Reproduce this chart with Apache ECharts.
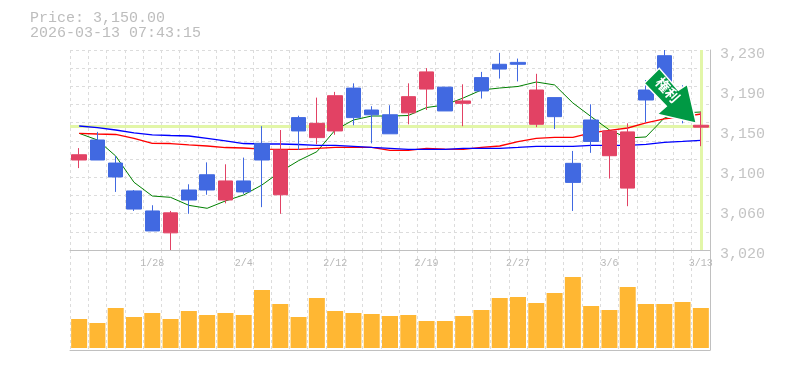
<!DOCTYPE html>
<html><head><meta charset="utf-8">
<style>html,body{margin:0;padding:0;background:#fff}#c{width:785px;height:370px}</style>
<script src="https://cdn.jsdelivr.net/npm/echarts@6/dist/echarts.min.js"></script>
</head><body><div id="c"></div>
<script>
const dates = ['1/22','1/23','1/26','1/27','1/28','1/29','1/30','2/2','2/3','2/4','2/5','2/6','2/9','2/10','2/12','2/13','2/16','2/17','2/18','2/19','2/20','2/24','2/25','2/26','2/27','3/2','3/3','3/4','3/5','3/6','3/9','3/10','3/11','3/12','3/13'];
const labelled = ['1/28','2/4','2/12','2/19','2/27','3/6','3/13'];
// open, close, low, high
const ohlc = [
[3120,3114.5,3106,3127],[3114.5,3135.5,3114.5,3144],[3096.7,3111.3,3081,3118.7],[3063,3082,3061,3083],[3040,3061,3040,3067],
[3059,3038,3020,3061],[3072.5,3083,3058,3089],[3083,3099,3078,3112],[3092.5,3072.5,3069,3110],[3081,3092.5,3079,3117],
[3114.5,3132,3065,3150],[3125,3078,3058,3146],[3145,3159,3125,3161],[3153,3138,3131,3180],[3182,3145,3141,3186],
[3159,3190,3151,3195],[3162,3167,3132,3171],[3142,3162,3142,3172],[3181,3164,3152,3195],[3207,3189,3167,3211],
[3166,3191,3166,3191],[3176.5,3174,3150,3194],[3187,3201,3179,3207],[3210,3215,3200,3227],[3215,3217,3197,3221],
[3188,3152,3149,3205],[3160,3180,3147,3180],[3091,3111,3061,3124],[3134,3156.5,3122,3173],[3145,3119,3095,3145],
[3144,3085,3066,3153],[3177.5,3188,3154,3198.5],[3193,3224,3185,3230],[3164,3180,3153,3193],[3151,3149,3129,3165]
];
const maShort = [3142.5,3135.5,3118.7,3091.1,3076.7,3075.3,3066.9,3063.8,3071.5,3077.8,3088.3,3102.2,3113.8,3123.2,3146,3156.5,3160.7,3160.7,3161.2,3169.6,3172.3,3179.6,3188,3190.1,3191.7,3196.4,3193.3,3174.4,3160,3146,3137.6,3138.7,3158.6,3163.9,3164.9];
const maMid = [3142.5,3141.8,3141.3,3137.3,3132,3131.8,3130.3,3129.2,3127.6,3127.1,3126,3125.7,3125.7,3126.8,3127.8,3127.8,3127.8,3124.7,3124.7,3126.8,3126,3125.7,3127.8,3129.2,3133.9,3137.1,3138.3,3138.3,3142.9,3145.5,3148.1,3153.4,3157.6,3159.7,3162.8];
const maLong = [3150.2,3148.6,3146,3142.9,3140.8,3140.2,3139.7,3137.1,3134.5,3131.8,3131.3,3131.3,3130.8,3129.9,3129.9,3128.9,3127.8,3126.8,3125.7,3125.7,3125.7,3126.8,3126.8,3126.8,3127.8,3128.9,3128.9,3128.9,3129.9,3129.9,3129.9,3131,3133.1,3134.1,3135.2];
const volume = [29,25,40,31,35,29,37,33,35,33,58,44,31,50,37,35,34,32,33,27,27,32,38,50,51,45,55,71,42,38,61,44,44,46,40];
const lastPrice = 3150;
const priceMin = 3020, priceMax = 3230;

const axisGray = '#c0c0c0', gridGray = '#dcdcdc', textGray = '#c4c4c4';
const mono = '"Liberation Mono", monospace';
const band = '#e2f6a8';
const arrowPath = 'path://M645 84L660 69L679 91L688 85L697 124L658 115L667 107Z';

const chart = echarts.init(document.getElementById('c'), null, {renderer:'canvas'});
chart.setOption({
  animation:false, backgroundColor:'#fff',
  title:{left:30,top:11,padding:0,text:'Price: 3,150.00\n2026-03-13 07:43:15',
    textStyle:{fontFamily:mono,fontSize:15,fontWeight:'normal',color:'#bdbdbd',lineHeight:15}},
  grid:[{left:70,right:75,top:50,height:200},{left:70,right:75,top:250,height:100}],
  xAxis:[
    {type:'category',gridIndex:0,data:dates,boundaryGap:true,
     axisLine:{show:true,onZero:false,lineStyle:{color:axisGray,width:1}},axisTick:{show:false},
     axisLabel:{show:true,interval:0,margin:8,fontFamily:mono,fontSize:10,color:'#b8b8b8',hideOverlap:false,
       formatter:v=>labelled.includes(v)?v:''},
     splitLine:{show:true,interval:0,lineStyle:{color:gridGray,type:[3,3],width:1}}},
    {type:'category',gridIndex:1,data:dates,boundaryGap:true,
     axisLine:{show:true,onZero:false,lineStyle:{color:axisGray,width:1}},axisTick:{show:false},axisLabel:{show:false},
     splitLine:{show:true,interval:0,lineStyle:{color:gridGray,type:[3,3],width:1}}}
  ],
  yAxis:[
    {type:'value',gridIndex:0,position:'right',min:priceMin,max:priceMax,interval:42,scale:true,
     axisLine:{show:true,lineStyle:{color:axisGray}},axisTick:{show:false},splitLine:{show:false},
     axisLabel:{show:true,margin:10,showMinLabel:true,showMaxLabel:true,hideOverlap:false,fontFamily:mono,fontSize:15,color:textGray,
       verticalAlign:'top',lineHeight:8,formatter:v=>(Math.round(v/10)*10).toLocaleString('en-US')}},
    {type:'value',gridIndex:0,position:'left',min:priceMin,max:priceMax,interval:(priceMax-priceMin)/11,scale:true,
     axisLine:{show:false},axisTick:{show:false},axisLabel:{show:false},
     splitLine:{show:true,lineStyle:{color:gridGray,type:[3,3],width:1}}},
    {type:'value',gridIndex:1,position:'right',min:-2,max:98,
     axisLine:{show:true,lineStyle:{color:axisGray}},axisTick:{show:false},axisLabel:{show:false},splitLine:{show:false}}
  ],
  series:[
    {type:'line',xAxisIndex:0,yAxisIndex:0,data:maShort,showSymbol:false,z:2,lineStyle:{color:'#008000',width:1}},
    {type:'line',xAxisIndex:0,yAxisIndex:0,data:maMid,showSymbol:false,z:2,lineStyle:{color:'#ff0000',width:1.3}},
    {type:'line',xAxisIndex:0,yAxisIndex:0,data:maLong,showSymbol:false,z:2,lineStyle:{color:'#0000ff',width:1.3}},
    {type:'candlestick',name:'price',xAxisIndex:0,yAxisIndex:0,data:ohlc,barWidth:15,z:3,
     itemStyle:{color:'#4169e1',borderColor:'#4169e1',color0:'#e24264',borderColor0:'#e24264',borderWidth:1},
     markLine:{silent:true,symbol:'none',z:1,label:{show:false},
       lineStyle:{color:band,width:3,type:'solid'},
       data:[{yAxis:lastPrice},{xAxis:dates[dates.length-1]}]},
     markPoint:{silent:true,z:9,
       data:[{coord:[dates[32],3183],symbol:arrowPath,symbolSize:[52,55],symbolOffset:[6,1],symbolKeepAspect:false,
         itemStyle:{color:'#009944',borderColor:'#fff',borderWidth:1.5},
         label:{show:true,position:'inside',offset:[-6,-2],formatter:'権利',rotate:-48,color:'#fff',fontSize:14,fontWeight:'bold',fontFamily:'"Noto Sans CJK JP"'}}]}},
    {type:'bar',xAxisIndex:1,yAxisIndex:2,data:volume,barWidth:16,itemStyle:{color:'#ffb733'}}
  ]
});
</script></body></html>
